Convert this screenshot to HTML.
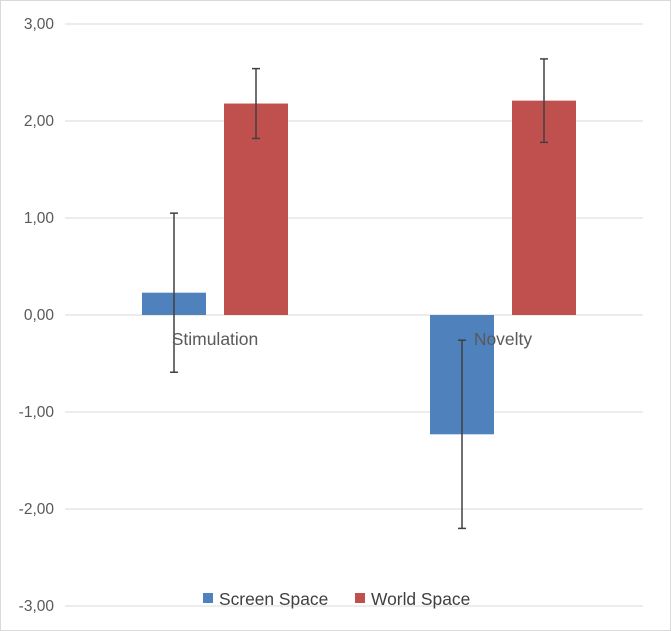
<!DOCTYPE html>
<html><head><meta charset="utf-8"><style>
html,body{margin:0;padding:0;background:#fff;}
svg{display:block;font-family:"Liberation Sans",sans-serif;}
</style></head><body>
<svg id="chart" width="671" height="631">
<rect x="0.5" y="0.5" width="670" height="630" fill="#fff" stroke="#d9d9d9"/>
<g id="grid"></g><g id="bars"></g><g id="labels"></g>
<g>
<rect x="203" y="593" width="10" height="10" fill="#4f81bd"/>
<text x="219" y="605" font-size="17.4" fill="#404040">Screen Space</text>
<rect x="355" y="593" width="10" height="10" fill="#c0504d"/>
<text x="371" y="605" font-size="17.4" fill="#404040">World Space</text>
</g>
</svg>
<script>
const categories = ["Stimulation", "Novelty"];
const screenValues = [0.23, -1.23];
const screenErrors = [0.82, 0.97];
const worldValues = [2.18, 2.21];
const worldErrors = [0.36, 0.43];
const yTicks = [3, 2, 1, 0, -1, -2, -3];
const yTickLabels = ["3,00", "2,00", "1,00", "0,00", "-1,00", "-2,00", "-3,00"];

const NS = "http://www.w3.org/2000/svg";
const plotL = 71, plotR = 647;
const y = v => 315 - v * 97;
const catW = (plotR - plotL) / categories.length;
const xc = i => plotL + catW * (i + 0.5);
function mk(tag, attrs, parent){const e=document.createElementNS(NS,tag);for(const k in attrs)e.setAttribute(k,attrs[k]);parent.appendChild(e);return e;}
const grid=document.getElementById("grid"), bars=document.getElementById("bars"), labels=document.getElementById("labels");
yTicks.forEach((t,i)=>{
  const l=mk("line",{x1:65,x2:643,y1:y(t),y2:y(t),stroke:"#d9d9d9","stroke-width":1},grid);
  
  
  const tx=mk("text",{x:54,y:y(t)+5,"text-anchor":"end","font-size":"15.5",fill:"#595959"},labels);
  tx.textContent=yTickLabels[i];
  
  
});
function bar(cx,v,err,color,name){
  const top=Math.min(y(v),y(0)), h=Math.abs(y(v)-y(0));
  const r=mk("rect",{x:cx-32,y:top,width:64,height:h,fill:color},bars);
  
  
  const g=mk("g",{stroke:"#404040","stroke-width":1.5},bars);
  
  
  mk("line",{x1:cx,x2:cx,y1:y(v+err),y2:y(v-err)},g);
  mk("line",{x1:cx-4,x2:cx+4,y1:y(v+err),y2:y(v+err)},g);
  mk("line",{x1:cx-4,x2:cx+4,y1:y(v-err),y2:y(v-err)},g);
}
categories.forEach((c,i)=>{
  bar(xc(i)-41,screenValues[i],screenErrors[i],"#4f81bd","bar-screen-"+c.toLowerCase());
  bar(xc(i)+41,worldValues[i],worldErrors[i],"#c0504d","bar-world-"+c.toLowerCase());
  const tx=mk("text",{x:xc(i),y:345,"text-anchor":"middle","font-size":"17.5",fill:"#595959"},labels);
  tx.textContent=c;
  
  
});
</script>
</body></html>
